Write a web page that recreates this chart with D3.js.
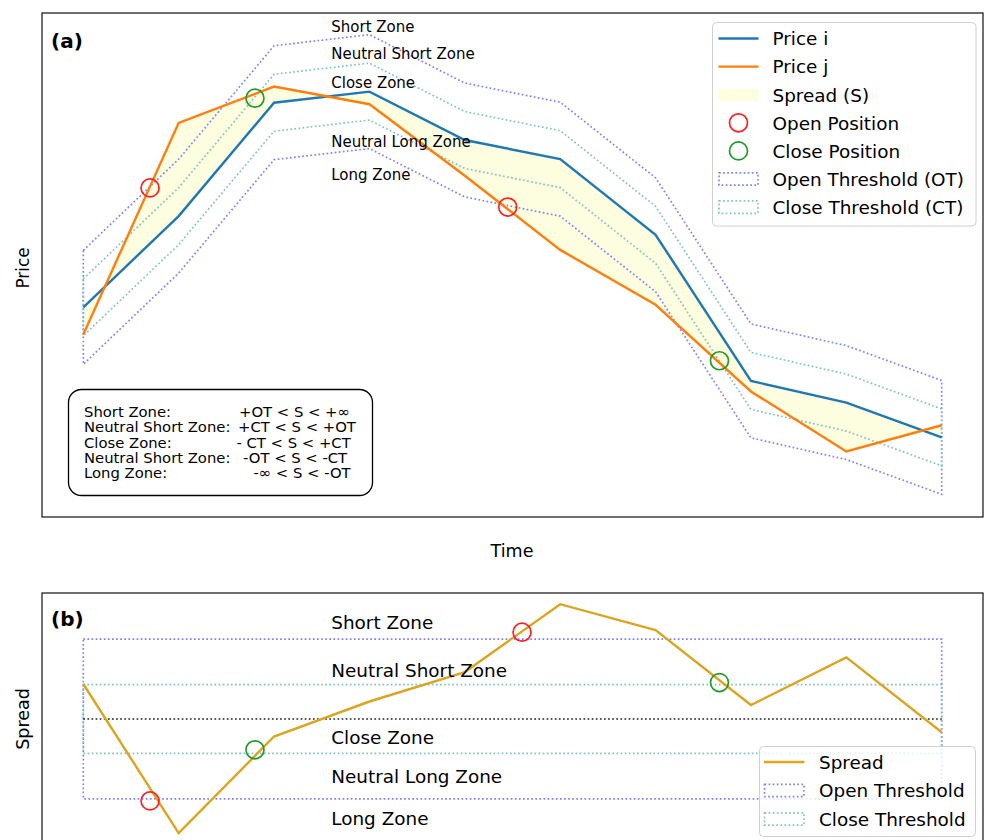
<!DOCTYPE html>
<html><head><meta charset="utf-8">
<script src="https://cdn.jsdelivr.net/npm/d3@7"></script>
<style>body{margin:0;background:#fff} text{font-family:"DejaVu Sans",sans-serif;fill:#000}</style>
</head><body><svg id="c" width="984" height="840"></svg>
<script>
// ---------- data ----------
const time = [0,1,2,3,4,5,6,7,8,9];
const priceI = [41.6, 59.7, 82.2, 84.4, 74.8, 71.0, 56.0, 27.0, 22.7, 15.8];
const priceJ = [36.2, 78.2, 85.4, 81.9, 67.7, 53.0, 42.1, 24.9, 13.0, 18.2];
const spread = [5.0, -16.3, -2.5, 2.5, 6.7, 16.4, 12.7, 2.0, 8.8, -1.9];
const otPrice = 11.3, ctPrice = 5.65;
const otSpread = 11.4, ctSpread = 4.9;
const openPriceT = [0.70, 4.45], openPriceV = [65.3, 61.5];
const closePriceT = [1.80, 6.67], closePriceV = [83.1, 31.0];
const openSpreadT = [0.70, 4.60], openSpreadV = [-11.7, 12.4];
const closeSpreadT = [1.80, 6.67], closeSpreadV = [-4.4, 5.2];
const zoneLabels = ["Short Zone","Neutral Short Zone","Close Zone","Neutral Long Zone","Long Zone"];
const zoneLabelPrice = [97.4, 91.9, 86.2, 74.5, 67.9];
const zoneLabelSpread = [13.9, 7.0, -2.6, -8.2, -14.2];
const zoneLabelTime = 2.6;
const ruleNames = ["Short Zone:","Neutral Short Zone:","Close Zone:","Neutral Short Zone:","Long Zone:"];
const ruleConds = ["+OT < S < +\u221e","+CT < S < +OT","- CT < S < +CT","-OT < S < -CT","-\u221e < S < -OT"];
const legendALabels = ["Price i","Price j","Spread (S)","Open Position","Close Position","Open Threshold (OT)","Close Threshold (CT)"];
const legendBLabels = ["Spread","Open Threshold","Close Threshold"];

// ---------- styles ----------
const C = {i:"#1f77b4", j:"#ff7f0e", fill:"#fdfde0", ot:"#8080ff", ct:"#80c4c0",
           open:"#ff2020", close:"#229a2a", spread:"#daa520"};
const DOT = "1.7,2.4";
const DW = 1.7;

const svg = d3.select("#c");
const x = d3.scaleLinear().domain([0,9]).range([83.3, 941.7]);
const yA = d3.scaleLinear().domain([0,100]).range([517,13]);
const yB = d3.scaleLinear().domain([-18,18]).range([845,593]);
const AX = {l:42, r:983};

// ================= panel (a) =================
const gA = svg.append("g");
const idx = time.map((d,k)=>k);
gA.append("path").datum(idx)
  .attr("d", d3.area().x(k=>x(time[k])).y0(k=>yA(priceI[k])).y1(k=>yA(priceJ[k])))
  .attr("fill", C.fill).attr("stroke","none");
function band(g, y, lo, hi, color){
  g.append("path").datum(idx)
    .attr("d", d3.area().x(k=>x(time[k])).y0(k=>y(lo(k))).y1(k=>y(hi(k))))
    .attr("fill","none").attr("stroke",color).attr("stroke-width",DW).attr("stroke-dasharray",DOT);
}
band(gA, yA, k=>priceI[k]-otPrice, k=>priceI[k]+otPrice, C.ot);
band(gA, yA, k=>priceI[k]-ctPrice, k=>priceI[k]+ctPrice, C.ct);
const lineA = vals => d3.line().x(k=>x(time[k])).y(k=>yA(vals[k]));
gA.append("path").datum(idx).attr("d", lineA(priceI)).attr("fill","none").attr("stroke",C.i).attr("stroke-width",2.4);
gA.append("path").datum(idx).attr("d", lineA(priceJ)).attr("fill","none").attr("stroke",C.j).attr("stroke-width",2.4);
function markers(g, y, ts, vs, color){
  g.selectAll(null).data(ts).enter().append("circle")
    .attr("cx",(t)=>x(t)).attr("cy",(t,k)=>y(vs[k])).attr("r",9)
    .attr("fill","none").attr("stroke",color).attr("stroke-width",1.7);
}
markers(gA, yA, openPriceT, openPriceV, C.open);
markers(gA, yA, closePriceT, closePriceV, C.close);
gA.selectAll(null).data(zoneLabels).enter().append("text")
  .attr("x", x(zoneLabelTime)).attr("y",(d,k)=>yA(zoneLabelPrice[k])+5.5)
  .style("font-size","15px").text(d=>d);
gA.append("rect").attr("x",68.5).attr("y",389.5).attr("width",304).attr("height",106)
  .attr("rx",13).attr("fill","#fff").attr("stroke","#000").attr("stroke-width",1.3);
const condX = [239, 238, 236.5, 243, 253.5];
ruleNames.forEach((n,k)=>{
  const yy = 416.8 + k*15.4;
  gA.append("text").attr("x",84).attr("y",yy).style("font-size","14.8px").text(n);
  gA.append("text").attr("x",condX[k]).attr("y",yy).style("font-size","14.8px").text(ruleConds[k]);
});
gA.append("rect").attr("x",AX.l).attr("y",13).attr("width",AX.r-AX.l).attr("height",504)
  .attr("fill","none").attr("stroke","#111").attr("stroke-width",1.2);
gA.append("text").attr("x",51).attr("y",48).style("font-size","20px").style("font-weight","bold").text("(a)");
function legend(g, lx, ly, w, h, labels, kinds, tx, hx0, hx1, rowY){
  g.append("rect").attr("x",lx).attr("y",ly).attr("width",w).attr("height",h).attr("rx",4)
    .attr("fill","#fff").attr("fill-opacity",0.8).attr("stroke","#d0d0d0").attr("stroke-width",1);
  labels.forEach((lab,k)=>{
    const cy = rowY(k), kd = kinds[k];
    if (kd.type==="line") g.append("line").attr("x1",hx0).attr("x2",hx1).attr("y1",cy).attr("y2",cy)
        .attr("stroke",kd.color).attr("stroke-width",2.4);
    if (kd.type==="patch") g.append("rect").attr("x",hx0).attr("y",cy-6).attr("width",hx1-hx0).attr("height",12)
        .attr("fill",kd.color);
    if (kd.type==="dotted") g.append("rect").attr("x",hx0+0.5).attr("y",cy-6.2).attr("width",hx1-hx0-1).attr("height",12.4)
        .attr("fill","none").attr("stroke",kd.color).attr("stroke-width",DW).attr("stroke-dasharray",DOT);
    if (kd.type==="circle") g.append("circle").attr("cx",(hx0+hx1)/2).attr("cy",cy).attr("r",9)
        .attr("fill","none").attr("stroke",kd.color).attr("stroke-width",1.7);
    g.append("text").attr("x",tx).attr("y",cy+6.8).style("font-size","18.4px").text(lab);
  });
}
legend(gA, 712.5, 22.5, 263.5, 203.5, legendALabels,
  [{type:"line",color:C.i},{type:"line",color:C.j},{type:"patch",color:C.fill},
   {type:"circle",color:C.open},{type:"circle",color:C.close},{type:"dotted",color:C.ot},{type:"dotted",color:C.ct}],
  772.5, 718.5, 758.5, k=>38.5+28.1*k);
svg.append("text").attr("x",512).attr("y",557).attr("text-anchor","middle").style("font-size","17.5px").text("Time");
svg.append("text").attr("transform","translate(28.5,268) rotate(-90)").attr("text-anchor","middle").style("font-size","16.8px").text("Price");

// ================= panel (b) =================
const gB = svg.append("g");
const lineB = d3.line().x(k=>x(time[k])).y(k=>yB(spread[k]));
band(gB, yB, k=>-otSpread, k=>otSpread, C.ot);
band(gB, yB, k=>-ctSpread, k=>ctSpread, C.ct);
gB.append("line").attr("x1",x(time[0])).attr("x2",x(time[time.length-1])).attr("y1",yB(0)).attr("y2",yB(0))
  .attr("stroke","#222").attr("stroke-width",DW).attr("stroke-dasharray",DOT);
gB.append("path").datum(idx).attr("d",lineB).attr("fill","none").attr("stroke",C.spread).attr("stroke-width",2.4);
markers(gB, yB, openSpreadT, openSpreadV, C.open);
markers(gB, yB, closeSpreadT, closeSpreadV, C.close);
gB.selectAll(null).data(zoneLabels).enter().append("text")
  .attr("x", x(zoneLabelTime)).attr("y",(d,k)=>yB(zoneLabelSpread[k])+6.8)
  .style("font-size","18.4px").text(d=>d);
gB.append("rect").attr("x",AX.l).attr("y",593).attr("width",AX.r-AX.l).attr("height",252)
  .attr("fill","none").attr("stroke","#111").attr("stroke-width",1.2);
gB.append("text").attr("x",51).attr("y",626).style("font-size","20px").style("font-weight","bold").text("(b)");
legend(gB, 759.5, 746.5, 216, 90, legendBLabels,
  [{type:"line",color:C.spread},{type:"dotted",color:C.ot},{type:"dotted",color:C.ct}],
  819, 764, 804.5, k=>762+28.5*k);
svg.append("text").attr("transform","translate(29,719) rotate(-90)").attr("text-anchor","middle").style("font-size","17.5px").text("Spread");
</script></body></html>
